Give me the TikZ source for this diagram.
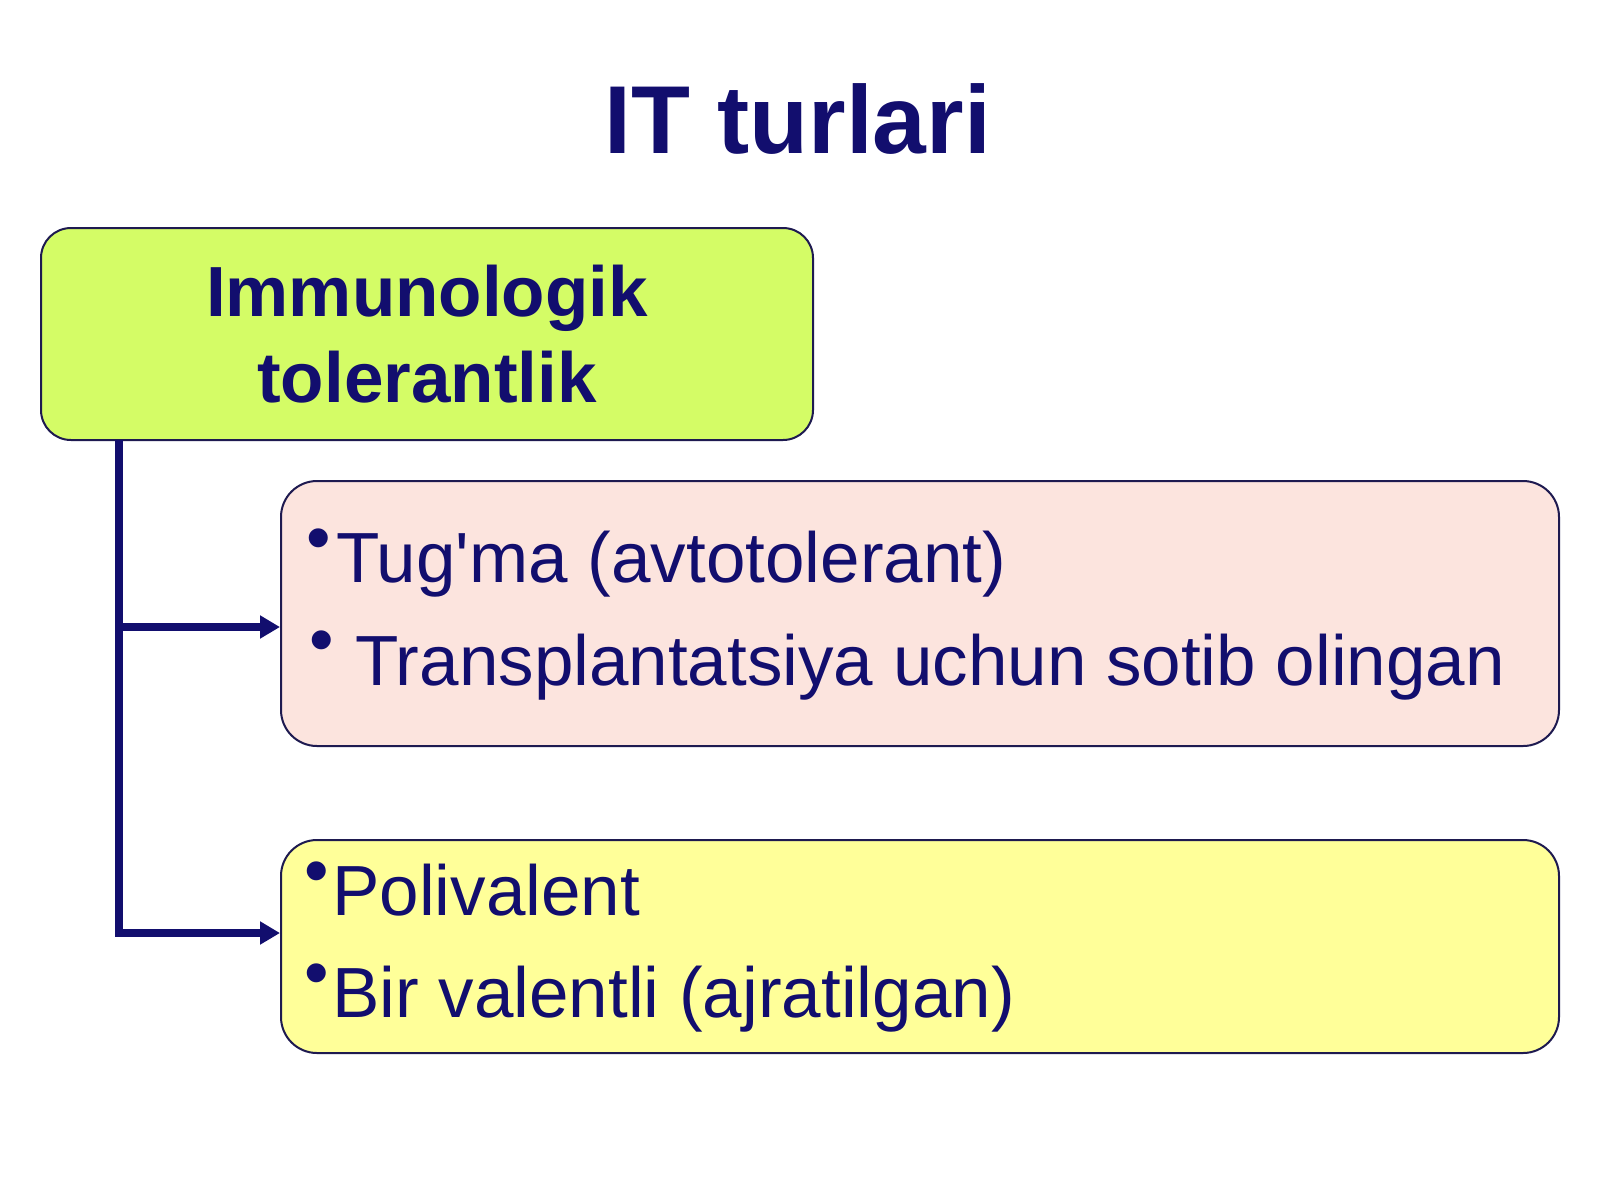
\documentclass[tikz,border=0pt]{standalone}
\usepackage{fontspec}
\setmainfont{Liberation Sans}[Ligatures=TeXOff]
\usetikzlibrary{arrows.meta}
\definecolor{navy}{RGB}{18,14,110}
\definecolor{boxline}{RGB}{30,26,80}
\definecolor{greenfill}{RGB}{212,252,102}
\definecolor{pinkfill}{RGB}{252,228,222}
\definecolor{yellowfill}{RGB}{255,255,153}
\tikzset{
  box/.style={draw=boxline, line width=2pt, rectangle, inner sep=0pt},
  itemtext/.style={anchor=base west, inner sep=0pt, text=navy, font=\fontsize{71}{84}\selectfont},
  bul/.style={anchor=center, inner sep=0pt, text=navy, font=\fontsize{70}{84}\selectfont},
  conn/.style={draw=navy, line width=8pt, line join=miter},
  arr/.style={conn, -{Triangle[length=20pt,width=22pt]}}
}
\begin{document}
\begin{tikzpicture}[x=1pt,y=-1pt]
\useasboundingbox (0,0) rectangle (1600,1200);
\fill[white] (0,0) rectangle (1600,1200);
% title
\node[anchor=base, inner sep=0pt, text=navy, font=\fontsize{96.5}{110}\selectfont\bfseries] (title) at (798,153) {IT turlari};
% boxes
\node[box, fill=greenfill, rounded corners=30pt, minimum width=772pt, minimum height=212pt, align=center, text=navy, font=\fontsize{71}{86}\selectfont\bfseries] (green) at (427,334) {Immunologik\\tolerantlik};
\node[box, fill=pinkfill, rounded corners=36pt, minimum width=1278pt, minimum height=265pt] (pink) at (920,613.5) {};
\node[box, fill=yellowfill, rounded corners=36pt, minimum width=1278pt, minimum height=213pt] (yellow) at (920,946.5) {};
% texts
\node[bul] (b1) at (319,545) {•};
\node[itemtext] (t1) at (336,582) {Tug'ma (avtotolerant)};
\node[bul] (b2) at (322,647) {•};
\node[itemtext] (t2) at (355,685) {Transplantatsiya uchun sotib olingan};
\node[bul] (b3) at (317,878) {•};
\node[itemtext] (t3) at (332,915) {Polivalent};
\node[bul] (b4) at (317,980) {•};
\node[itemtext] (t4) at (332,1017) {Bir valentli (ajratilgan)};
% connectors
\coordinate (top) at (119,440);
\coordinate (j1) at (119,627);
\coordinate (j2) at (119,933);
\draw[arr] (top) -- (j2) -- (j2 -| yellow.west);
\draw[arr] (j1) -- (j1 -| pink.west);
\end{tikzpicture}
\end{document}
